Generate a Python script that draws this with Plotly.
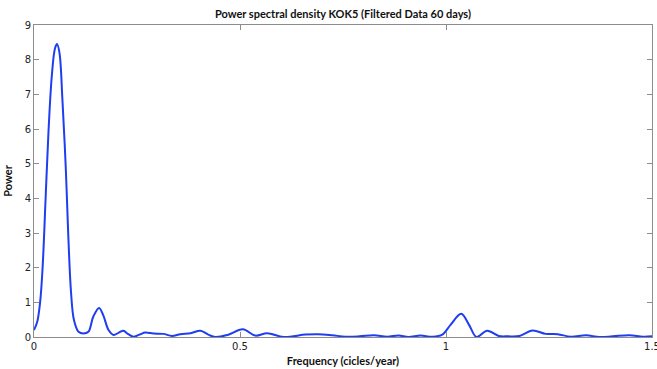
import plotly.graph_objects as go

freq = [0.000, 0.008, 0.015, 0.021, 0.028, 0.035, 0.043, 0.051, 0.056, 0.062,
        0.069, 0.077, 0.083, 0.090, 0.097, 0.108, 0.120, 0.132, 0.144, 0.158,
        0.168, 0.181, 0.193, 0.205, 0.217, 0.229, 0.242, 0.258, 0.270, 0.290,
        0.314, 0.335, 0.355, 0.380, 0.404, 0.423, 0.440, 0.470, 0.507, 0.537,
        0.566, 0.606, 0.659, 0.690, 0.724, 0.756, 0.790, 0.825, 0.857, 0.885,
        0.909, 0.938, 0.967, 0.991, 1.011, 1.037, 1.056, 1.074, 1.100, 1.128,
        1.150, 1.178, 1.210, 1.242, 1.271, 1.303, 1.340, 1.372, 1.405, 1.445,
        1.478, 1.500]
power = [0.20, 0.45, 1.02, 2.03, 3.95, 5.88, 7.50, 8.33, 8.45, 8.18,
         6.84, 4.91, 2.99, 1.27, 0.49, 0.15, 0.10, 0.15, 0.59, 0.84,
         0.63, 0.20, 0.06, 0.12, 0.18, 0.08, 0.01, 0.08, 0.13, 0.10,
         0.09, 0.03, 0.08, 0.11, 0.18, 0.07, 0.00, 0.06, 0.22, 0.04,
         0.11, 0.00, 0.07, 0.08, 0.05, 0.01, 0.02, 0.05, 0.01, 0.04,
         0.00, 0.04, 0.01, 0.07, 0.35, 0.67, 0.35, 0.00, 0.18, 0.03,
         0.02, 0.03, 0.19, 0.09, 0.08, 0.01, 0.05, 0.00, 0.02, 0.05,
         0.01, 0.02]

x_ticks = [0, 0.5, 1, 1.5]
x_tick_labels = ["0", "0.5", "1", "1.5"]
y_ticks = list(range(0, 10))

fig = go.Figure()
fig.add_trace(go.Scatter(
    x=freq, y=power, mode="lines",
    line=dict(color="#1f3ef0", width=2, shape="spline", smoothing=1.0),
    showlegend=False,
))

axis_common = dict(
    showgrid=False, zeroline=False,
    showline=True, linecolor="#8c8c8c", linewidth=1, mirror="ticks",
    ticks="inside", ticklen=5, tickcolor="#8c8c8c",
    tickfont=dict(family="DejaVu Sans", size=10, color="#222222"),
    ticklabeloverflow="allow", automargin=False,
)

fig.update_layout(
    width=657, height=369,
    margin=dict(l=34, r=5, t=25, b=32, autoexpand=False),
    paper_bgcolor="white", plot_bgcolor="white",
    title=dict(
        text="<b>Power spectral density KOK5 (Filtered Data 60 days)</b>",
        x=0.522, xanchor="center", y=0.962, yanchor="middle",
        font=dict(family="Lato", size=11, color="#111111"),
    ),
    xaxis=dict(
        range=[0, 1.5], tickvals=x_ticks, ticktext=x_tick_labels,
        title=dict(text="<b>Frequency (cicles/year)</b>", standoff=6,
                   font=dict(family="Lato", size=11, color="#111111")),
        **axis_common,
    ),
    yaxis=dict(
        range=[0, 9], tickvals=y_ticks,
        title=dict(text="<b>Power</b>", standoff=9,
                   font=dict(family="Lato", size=11, color="#111111")),
        **axis_common,
    ),
)

fig.write_html("out.html")
